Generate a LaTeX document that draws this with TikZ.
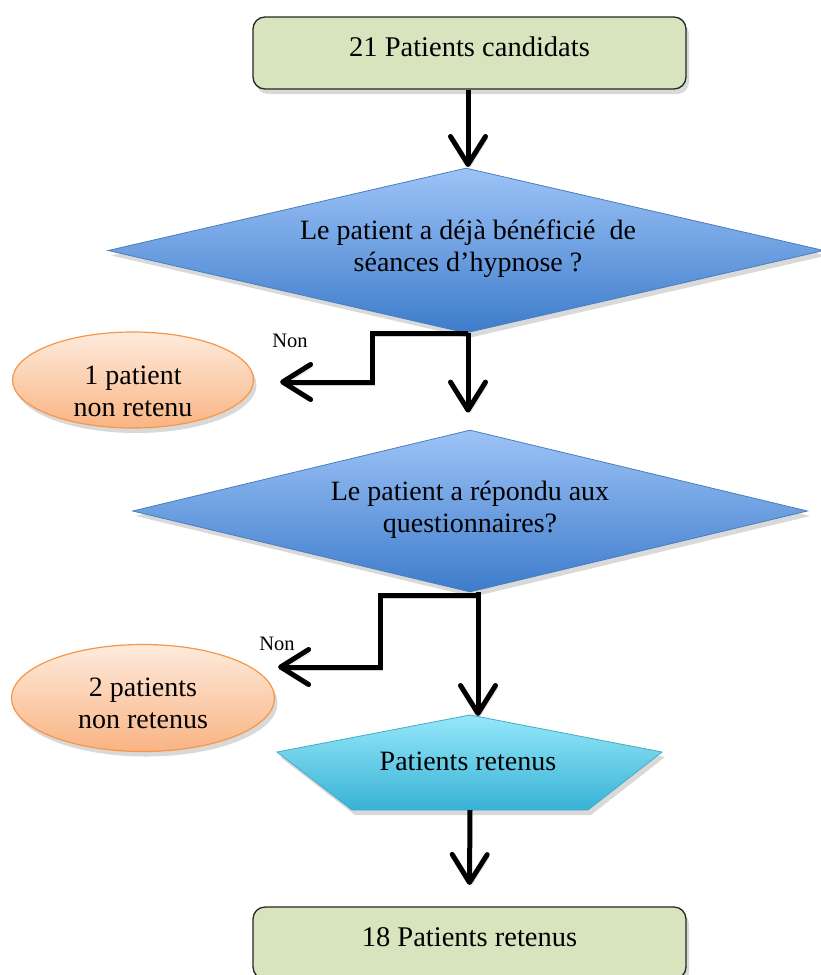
\documentclass[tikz,border=0pt]{standalone}
\usepackage{fontspec}
\setmainfont{Liberation Serif}
\usetikzlibrary{shapes.geometric,arrows.meta,shadows,calc}
\definecolor{boxgreen}{HTML}{D7E4BD}
\definecolor{dtop}{HTML}{9DC3F7}
\definecolor{dbot}{HTML}{3D7CCB}
\definecolor{dline}{HTML}{4A7EBB}
\definecolor{etop}{HTML}{FEEBDD}
\definecolor{ebot}{HTML}{F9B483}
\definecolor{eline}{HTML}{F79646}
\definecolor{ptopc}{HTML}{96E8FA}
\definecolor{pbotc}{HTML}{38B2D5}
\definecolor{pline}{HTML}{46AAC5}
\begin{document}
\begin{tikzpicture}[x=1pt,y=-1pt,
  shd/.style={drop shadow={shadow xshift=3pt,shadow yshift=-5pt,opacity=0.3}},
  box/.style={draw=black!85, line width=1.3pt, fill=boxgreen, rounded corners=12pt,
    minimum width=433pt, minimum height=72pt, inner sep=0pt, text depth=12pt,
    font=\fontsize{28.5}{33}\selectfont, shd},
  dec/.style={diamond, draw=dline, line width=0.8pt, top color=dtop, bottom color=dbot,
    inner sep=0pt, shd},
  oval/.style={ellipse, draw=eline, line width=1.2pt, top color=etop, bottom color=ebot,
    inner sep=0pt, shd},
  txt/.style={align=center, font=\fontsize{28}{32}\selectfont, inner sep=0pt},
  nonlbl/.style={font=\fontsize{20.5}{22}\selectfont, inner sep=0pt},
  conn/.style={line width=5pt, line join=miter,
    -{Straight Barb[length=28pt,width=35pt,round]},
    preaction={draw=black, opacity=0.18, transform canvas={xshift=2pt,yshift=-3pt}}},
]
\useasboundingbox (0,0) rectangle (821,975);

% top box
\node[box] (top) at (469.5,53) {21 Patients candidats};

% decision 1
\node[dec, minimum width=716pt, minimum height=165pt] (d1) at (466,250.5) {};
\node[txt] (t1) at (468,249) {Le patient a déjà bénéficié~ de\\séances d’hypnose ?};

% oval 1
\node[oval, minimum width=241pt, minimum height=96pt] (e1) at (133,380) {};
\node[txt] (te1) at (133,391) {1 patient\\non retenu};

% decision 2
\node[dec, minimum width=675pt, minimum height=162pt] (d2) at (470,511) {};
\node[txt] (t2) at (470,510) {Le patient a répondu aux\\questionnaires?};

% oval 2
\node[oval, minimum width=263pt, minimum height=107pt] (e2) at (143,698) {};
\node[txt] (te2) at (143,703) {2 patients\\non retenus};

% pentagon
\coordinate (ptop) at (470,715);
\coordinate (pbot) at (470,810);
\path[draw=pline, line width=0.8pt, top color=ptopc, bottom color=pbotc, shd]
  (ptop) -- (662,752) -- (588,810) -- (352,810) -- (277,752) -- cycle;
\node[txt] (ret) at (468,761) {Patients retenus};

% bottom box
\node[box] (bot) at (469.5,943) {18 Patients retenus};

% labels
\node[nonlbl] (non1) at (290,341) {Non};
\node[nonlbl] (non2) at (277,644) {Non};

% free ends
\coordinate (n1) at ($(e1.east)+(26,2)$);
\coordinate (n2) at ($(e2.east)+(3,-31)$);

% connectors
\draw[conn] (top.south -| 468,0) -- (468,167);
\draw[conn] ($(d1.south)+(2,0)$) -- ++(-96,0) |- (n1);
\draw[conn] ($(d1.south)+(2,0)$) -- ($(d1.south |- d2.north)+(2,-17)$);
\draw[conn] ($(d2.south)+(8,3)$) -- ++(-98,0) |- (n2);
\draw[conn] ($(d2.south)+(8,0)$) -- ($(ptop)+(8,1)$);
\draw[conn] (pbot) -- ($(bot.north |- pbot)+(0,75)$);
\end{tikzpicture}
\end{document}
